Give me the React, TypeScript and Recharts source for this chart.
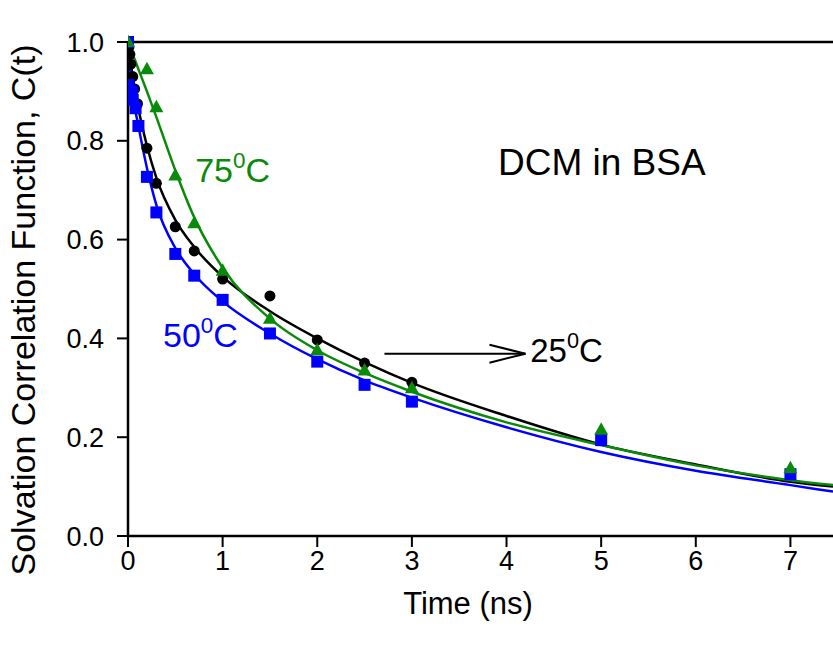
import React from 'react'
import {
  ComposedChart,
  Line,
  Scatter,
  XAxis,
  YAxis,
  ReferenceLine,
  ReferenceDot,
} from 'recharts'

// measured points (time in ns, C(t))
const blackTimes = [0, 0.01, 0.02, 0.03, 0.05, 0.07, 0.1, 0.2, 0.3, 0.5, 0.7, 1, 1.5, 2, 2.5, 3, 5, 7]
const blackValues = [1.0, 0.99, 0.975, 0.955, 0.93, 0.905, 0.875, 0.785, 0.714, 0.626, 0.577, 0.52, 0.486, 0.397, 0.35, 0.311, 0.198, 0.128]

const blueTimes = [0, 0.005, 0.04, 0.05, 0.08, 0.11, 0.2, 0.3, 0.5, 0.7, 1, 1.5, 2, 2.5, 3, 5, 7]
const blueValues = [1.0, 0.913, 0.9, 0.883, 0.866, 0.83, 0.727, 0.655, 0.571, 0.527, 0.478, 0.41, 0.353, 0.306, 0.272, 0.194, 0.125]

const greenTimes = [0, 0.2, 0.3, 0.5, 0.7, 1, 1.5, 2, 2.5, 3, 5, 7]
const greenValues = [1.0, 0.945, 0.868, 0.73, 0.633, 0.537, 0.44, 0.376, 0.335, 0.299, 0.215, 0.137]

// fitted curves
const fitTimes = [0, 0.05, 0.1, 0.2, 0.3, 0.5, 0.7, 1, 1.5, 2, 2.5, 3, 4, 5, 6, 7, 7.45]
const blackFit = [1.0, 0.93, 0.875, 0.79, 0.725, 0.64, 0.585, 0.525, 0.455, 0.4, 0.352, 0.31, 0.243, 0.185, 0.145, 0.11, 0.1]
const blueFit = [1.0, 0.89, 0.84, 0.745, 0.67, 0.583, 0.53, 0.475, 0.41, 0.358, 0.315, 0.28, 0.22, 0.17, 0.132, 0.103, 0.09]
const greenFit = [1.0, 0.975, 0.95, 0.9, 0.848, 0.74, 0.645, 0.543, 0.44, 0.376, 0.33, 0.292, 0.23, 0.184, 0.143, 0.113, 0.103]

const xTicks = [0, 1, 2, 3, 4, 5, 6, 7]
const yTicks = [0, 0.2, 0.4, 0.6, 0.8, 1.0]

const toPoints = (ts: number[], cs: number[]) => ts.map((t, i) => ({ t, c: cs[i] }))

const FONT = '"Liberation Sans", Arial, Helvetica, sans-serif'
const BLUE = '#0000ff'
const GREEN = '#0a8a0a'

const tempLabel = (num: string, color: string, size: number) => (p: any) => (
  <text x={p.cx} y={p.cy} fill={color} fontSize={size} fontFamily={FONT}>
    {num}
    <tspan dy={-size * 0.42} fontSize={size * 0.66}>0</tspan>
    <tspan dy={size * 0.42}>C</tspan>
  </text>
)

const circleShape = (p: any) => <circle cx={p.cx} cy={p.cy} r={5.5} fill="#000" />
const squareShape = (p: any) => <rect x={p.cx - 6} y={p.cy - 6} width={12} height={12} fill={BLUE} />
const triangleShape = (p: any) => (
  <path d={`M${p.cx} ${p.cy - 7.5} L${p.cx + 7} ${p.cy + 5} L${p.cx - 7} ${p.cy + 5} Z`} fill={GREEN} />
)

export default function App() {
  const black = toPoints(blackTimes, blackValues)
  const blue = toPoints(blueTimes, blueValues)
  const green = toPoints(greenTimes, greenValues)

  return (
    <div style={{ position: 'absolute', left: 0, top: 0, width: 833, height: 652, background: '#fff', overflow: 'hidden' }}>
      <ComposedChart width={833} height={652} margin={{ top: 42, right: 0, left: 0, bottom: 56 }}>
        <XAxis
          dataKey="t"
          type="number"
          domain={[0, 7.45]}
          allowDataOverflow
          ticks={xTicks}
          interval={0}
          height={60}
          axisLine={{ stroke: '#000', strokeWidth: 2.5 }}
          tickLine={{ stroke: '#000', strokeWidth: 2 }}
          tickSize={11}
          tickMargin={4}
          tick={{ fill: '#000', fontSize: 27, fontFamily: FONT }}
          label={() => (
            <text x={468} y={614} textAnchor="middle" fontSize={31} fontFamily={FONT} fill="#000">
              Time (ns)
            </text>
          )}
        />
        <YAxis
          dataKey="c"
          type="number"
          domain={[0, 1]}
          ticks={yTicks}
          interval={0}
          width={128}
          axisLine={{ stroke: '#000', strokeWidth: 2.5 }}
          tickLine={{ stroke: '#000', strokeWidth: 2 }}
          tickSize={11}
          tickMargin={13}
          tickFormatter={(v: number) => v.toFixed(1)}
          tick={{ fill: '#000', fontSize: 27, fontFamily: FONT }}
          label={() => (
            <text
              x={23}
              y={310}
              transform="rotate(-90 23 310)"
              textAnchor="middle"
              dominantBaseline="central"
              fontSize={34}
              fontFamily={FONT}
              fill="#000"
            >
              Solvation Correlation Function, C(t)
            </text>
          )}
        />
        <ReferenceLine y={1} stroke="#000" strokeWidth={2.5} />

        <Line data={toPoints(fitTimes, blackFit)} dataKey="c" type="monotone" stroke="#000" strokeWidth={2.5} dot={false} isAnimationActive={false} />
        <Line data={toPoints(fitTimes, blueFit)} dataKey="c" type="monotone" stroke={BLUE} strokeWidth={2.5} dot={false} isAnimationActive={false} />
        <Line data={toPoints(fitTimes, greenFit)} dataKey="c" type="monotone" stroke={GREEN} strokeWidth={2.5} dot={false} isAnimationActive={false} />

        <Scatter data={black} dataKey="c" shape={circleShape} legendType="none" isAnimationActive={false} />
        <Scatter data={blue} dataKey="c" shape={squareShape} legendType="none" isAnimationActive={false} />
        <Scatter data={green} dataKey="c" shape={triangleShape} legendType="none" isAnimationActive={false} />

        <ReferenceLine
          segment={[{ x: 2.71, y: 0.369 }, { x: 4.2, y: 0.369 }]}
          stroke="#000"
          strokeWidth={2}
        />
        <ReferenceDot
          x={4.2}
          y={0.369}
          r={0}
          shape={(p: any) => (
            <path d={`M${p.cx - 36} ${p.cy - 9} L${p.cx} ${p.cy} L${p.cx - 36} ${p.cy + 9}`} fill="none" stroke="#000" strokeWidth={2} />
          )}
        />
        <ReferenceDot x={4.25} y={0.352} r={0} shape={tempLabel('25', '#000', 33)} />
        <ReferenceDot x={0.71} y={0.717} r={0} shape={tempLabel('75', GREEN, 34)} />
        <ReferenceDot x={0.37} y={0.383} r={0} shape={tempLabel('50', BLUE, 34)} />
        <ReferenceDot
          x={3.91}
          y={0.731}
          r={0}
          shape={(p: any) => (
            <text x={p.cx} y={p.cy} fontSize={37} fontFamily={FONT} fill="#000">
              DCM in BSA
            </text>
          )}
        />
      </ComposedChart>
    </div>
  )
}
